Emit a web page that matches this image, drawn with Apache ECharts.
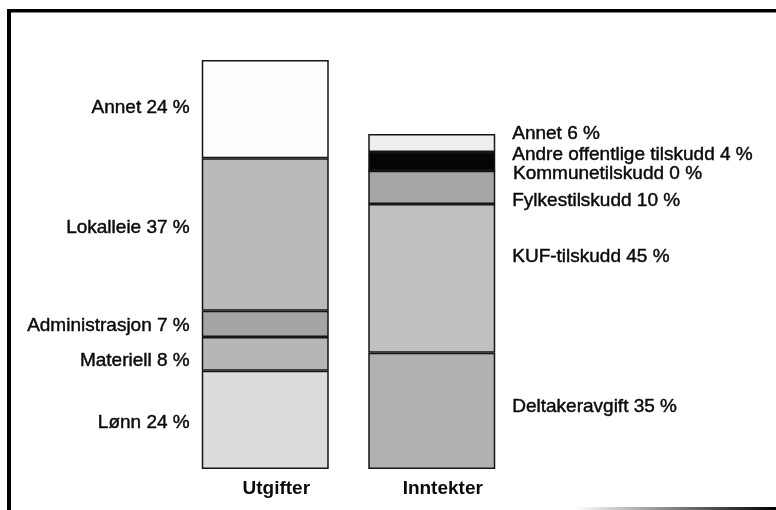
<!DOCTYPE html>
<html>
<head>
<meta charset="utf-8">
<script src="https://cdn.jsdelivr.net/npm/echarts@6/dist/echarts.min.js"></script>
<style>
  html, body { margin: 0; padding: 0; background: #fff; }
  #main { width: 776px; height: 510px; }
</style>
</head>
<body>
<div id="main"></div>
<script>
// kategorier
var categories = ["Utgifter", "Inntekter"];

// utgifter, nedenfra og opp
var expenseNames = ["Lønn", "Materiell", "Administrasjon", "Lokalleie", "Annet"];
var expensePct = [24, 8, 7, 37, 24];
// segmenthøyde lest av bildet (utgifter = 100)
var expenseHeight = [24.0, 8.3, 6.4, 37.3, 24.0];

// inntekter, nedenfra og opp
var incomeNames = ["Deltakeravgift", "KUF-tilskudd", "Fylkestilskudd", "Kommunetilskudd", "Andre offentlige tilskudd", "Annet"];
var incomePct = [35, 45, 10, 0, 4, 6];
var incomeHeight = [28.4, 36.4, 8.1, 0, 4.6, 4.4];

// stil
var expenseColors = ["#dcdcdc", "#b6b6b6", "#a4a4a4", "#bababa", "#fdfdfd"];
var incomeColors = ["#b1b1b1", "#c0c0c0", "#a6a6a6", "#a6a6a6", "#050505", "#eeeeee"];
var expenseNudge = [3, 7, 2, -7, -1];
var incomeNudge = [-4, -22, 13, 3, -7, -9];

var font = "'Liberation Sans', Arial, Helvetica, sans-serif";

var myChart = echarts.init(document.getElementById("main"));

function labelStyle(pos, dist, nudge, text) {
  return {
    show: true,
    position: pos,
    distance: dist,
    offset: [0, nudge],
    formatter: text,
    fontFamily: font,
    fontSize: 19,
    color: "#0a0a0a",
    textBorderColor: "#0a0a0a",
    textBorderWidth: 0.45,
  };
}

var series = [];
expenseNames.forEach(function (name, i) {
  series.push({
    name: "u_" + name,
    type: "bar",
    stack: "total",
    barWidth: 127,
    data: [expenseHeight[i], "-"],
    itemStyle: { color: expenseColors[i], borderColor: "#151515", borderWidth: 1.5 },
    label: labelStyle("left", 12, expenseNudge[i], name + " " + expensePct[i] + " %"),
    silent: true,
  });
});
incomeNames.forEach(function (name, i) {
  series.push({
    name: "i_" + name,
    type: "bar",
    stack: "total",
    barWidth: 127,
    data: ["-", incomeHeight[i]],
    itemStyle: { color: incomeColors[i], borderColor: "#151515", borderWidth: 1.5 },
    label: labelStyle("right", 17, incomeNudge[i], name + " " + incomePct[i] + " %"),
    silent: true,
  });
});

var option = {
  animation: false,
  backgroundColor: "#fff",
  grid: { left: 182, width: 333, top: 60, bottom: 41 },
  xAxis: {
    type: "category",
    data: categories,
    axisLine: { show: false },
    axisTick: { show: false },
    axisLabel: {
      margin: 10,
      padding: [0, 0, 0, 22],
      fontFamily: font,
      fontSize: 19,
      fontWeight: "bold",
      color: "#0a0a0a",
    },
  },
  yAxis: {
    type: "value",
    min: 0,
    max: 100,
    show: false,
  },
  series: series,
  graphic: [
    // ramme
    { type: "rect", shape: { x: 7, y: 9, width: 4, height: 501 }, style: { fill: "#000" }, silent: true },
    { type: "rect", shape: { x: 7, y: 9, width: 769, height: 3.5 }, style: { fill: "#000" }, silent: true },
    {
      type: "rect",
      shape: { x: 575, y: 507, width: 201, height: 3 },
      style: {
        fill: new echarts.graphic.LinearGradient(0, 0, 1, 0, [
          { offset: 0, color: "#ffffff" },
          { offset: 0.6, color: "#666666" },
          { offset: 1, color: "#000000" },
        ]),
      },
      silent: true,
    },
  ],
};

myChart.setOption(option, true);
</script>
</body>
</html>
